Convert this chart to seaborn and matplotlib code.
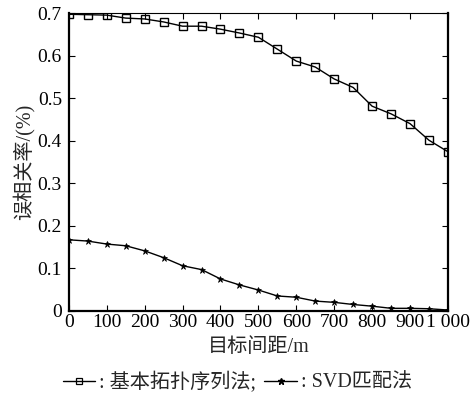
import numpy as np
import pandas as pd
import matplotlib
matplotlib.use("Agg")
import matplotlib.pyplot as plt
import seaborn as sns
from matplotlib.lines import Line2D

distance = [0, 50, 100, 150, 200, 250, 300, 350, 400, 450, 500,
            550, 600, 650, 700, 750, 800, 850, 900, 950, 1000]
topo_seq = [0.697, 0.696, 0.695, 0.688, 0.686, 0.679, 0.669, 0.669, 0.662, 0.653, 0.643,
            0.615, 0.587, 0.573, 0.545, 0.525, 0.481, 0.463, 0.440, 0.401, 0.374]
svd_match = [0.167, 0.164, 0.157, 0.153, 0.141, 0.125, 0.106, 0.097, 0.075, 0.061, 0.049,
             0.035, 0.032, 0.023, 0.020, 0.015, 0.011, 0.006, 0.006, 0.005, 0.002]
series_names = ["基本拓扑序列法", "SVD匹配法"]
x_ticks = [0, 100, 200, 300, 400, 500, 600, 700, 800, 900, 1000]
x_tick_labels = ["0", "100", "200", "300", "400", "500", "600", "700", "800", "900", "1 000"]
y_ticks = [0, 0.1, 0.2, 0.3, 0.4, 0.5, 0.6, 0.7]
y_tick_labels = ["0", "0.1", "0.2", "0.3", "0.4", "0.5", "0.6", "0.7"]

df = pd.DataFrame({
    "distance": distance * 2,
    "rate": topo_seq + svd_match,
    "method": [series_names[0]] * len(distance) + [series_names[1]] * len(distance),
})

sns.set_theme(style="white")
plt.rcParams['font.family'] = ['Liberation Serif', 'Noto Sans CJK SC']
plt.rcParams['axes.unicode_minus'] = False

fig = plt.figure(figsize=(4.75, 3.94), dpi=100)
ax = fig.add_axes([0.145, 0.211, 0.798, 0.756])

sns.lineplot(data=df, x="distance", y="rate", hue="method", style="method",
             markers={series_names[0]: "s", series_names[1]: "*"},
             dashes=False, palette={series_names[0]: "black", series_names[1]: "black"},
             ax=ax, legend=False, linewidth=1.0)

for line, nm in zip(ax.lines, series_names):
    if nm == series_names[0]:
        line.set_markerfacecolor("none")
        line.set_markeredgecolor("black")
        line.set_markersize(5.2)
        line.set_markeredgewidth(1.0)
    else:
        line.set_markerfacecolor("black")
        line.set_markeredgecolor("black")
        line.set_markersize(5)
        line.set_markeredgewidth(0.5)

ax.set_xlim(0, 1000)
ax.set_ylim(0, 0.7)
ax.set_xticks(x_ticks)
ax.set_xticklabels(x_tick_labels)
ax.set_yticks(y_ticks)
ax.set_yticklabels(y_tick_labels)
ax.tick_params(direction="in", length=4, width=0.8, labelsize=14, colors="black",
               top=True, right=True, bottom=True, left=True)
ax.tick_params(axis="x", pad=2)
ax.tick_params(axis="y", pad=5)
for s in ["left", "bottom", "right"]:
    ax.spines[s].set_linewidth(1.6)
ax.spines["top"].set_linewidth(0.8)
for s in ax.spines.values():
    s.set_color("black")

ax.set_xlabel("目标间距/m", fontsize=14.5, labelpad=5)
ax.set_ylabel("误相关率/(%)", fontsize=14.5, labelpad=2)

handles = [
    Line2D([], [], color="black", lw=1.0, marker="s", markerfacecolor="none",
           markersize=4.5, markeredgewidth=0.9),
    Line2D([], [], color="black", lw=1.0, marker="*", markerfacecolor="black",
           markersize=5),
]
fig.legend(handles, [": " + series_names[0] + ";", ": " + series_names[1]],
           loc="center", bbox_to_anchor=(0.5, 0.03), ncol=2, frameon=False,
           fontsize=14.5, handlelength=1.6, handletextpad=0.2, columnspacing=0.4)

fig.savefig("out.png", dpi=100)
